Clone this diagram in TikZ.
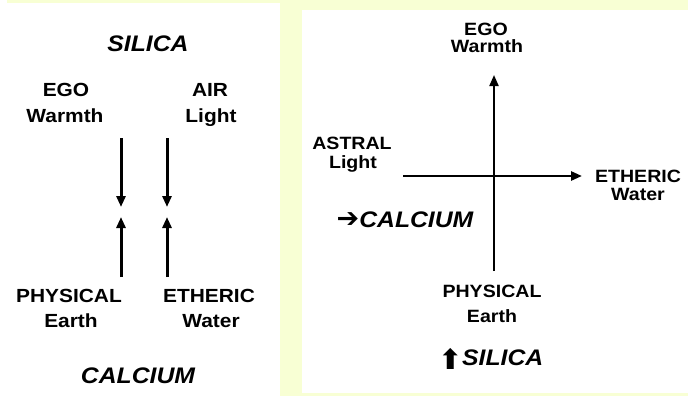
\documentclass[tikz,border=0pt]{standalone}
\usepackage{fontspec}
\setmainfont[FakeStretch=1.1]{Liberation Sans}
\newfontfamily\symfont{DejaVu Sans}
\usetikzlibrary{arrows.meta}
\definecolor{paleyellow}{RGB}{248,255,212}

\begin{document}
\begin{tikzpicture}[x=1pt, y=-1pt,
      lbl/.style={anchor=base, inner sep=0pt, font=\fontsize{19}{22}\selectfont\bfseries},
      rlbl/.style={lbl, font=\fontsize{17.8}{20}\selectfont\bfseries},
      elem/.style={anchor=base, inner sep=0pt, font=\fontsize{22.5}{26}\selectfont\bfseries\itshape},
      larr/.style={-{Triangle[length=11pt, width=9pt]}, line width=3pt},
      rarr/.style={-{Triangle[length=11pt, width=9pt]}}]
    \useasboundingbox (0,0) rectangle (696,396);
    % background and the two panels
    \fill[white] (0,0) rectangle (696,396);
    \fill[paleyellow] (7,0) rectangle (688,396);
    \fill[white] (0,3) rectangle (280,396);
    \fill[white] (302,10) rectangle (688,393);
    % left panel
    \node[elem] (lsilica) at (148,52) {SILICA};
    \node[lbl] (lego)    at (66,96)   {EGO};
    \node[lbl] (lwarmth) at (65,122)  {Warmth};
    \node[lbl] (lair)    at (210,96)  {AIR};
    \node[lbl] (llight)  at (211,122) {Light};
    \node[lbl] (lphys)   at (69,302)  {PHYSICAL};
    \node[lbl] (learth)  at (71,327)  {Earth};
    \node[lbl] (lether)  at (209,302) {ETHERIC};
    \node[lbl] (lwater)  at (211,327) {Water};
    \node[elem] (lcalc)  at (138,383) {CALCIUM};
    \foreach \col/\x in {ego/121, air/167}{
      \coordinate (\col-a) at (\x,138);
      \coordinate (\col-b) at (\x,207);
      \coordinate (\col-c) at (\x,277);
      \coordinate (\col-d) at (\x,217);
      \draw[larr] (\col-a) -- (\col-b);
      \draw[larr] (\col-c) -- (\col-d);
    }
    % right panel
    \node[rlbl] (rego)    at (486,36)  {EGO};
    \node[rlbl] (rwarmth) at (487,53)  {Warmth};
    \node[rlbl] (rastral) at (352,149) {ASTRAL};
    \node[rlbl] (rlight)  at (353,168) {Light};
    \node[rlbl] (rether)  at (638,182) {ETHERIC};
    \node[rlbl] (rwater)  at (638,200) {Water};
    \node[elem] (rcalc)   at (405,227) {{\symfont\fontsize{27}{30}\selectfont ➔}CALCIUM};
    \node[rlbl] (rphys)   at (492,297) {PHYSICAL};
    \node[rlbl] (rearth)  at (492,322) {Earth};
    \node[elem] (rsil)    at (491,365) {\raisebox{-4pt}{\symfont\fontsize{28}{30}\selectfont ⬆}SILICA};
    \coordinate (vbot)   at (494,271);
    \coordinate (vtop)   at (494,75);
    \coordinate (hleft)  at (403,176);
    \coordinate (hright) at (582,176);
    \draw[rarr, line width=2pt] (vbot) -- (vtop);
    \draw[rarr, line width=2.6pt] (hleft) -- (hright);
  \end{tikzpicture}
\end{document}
